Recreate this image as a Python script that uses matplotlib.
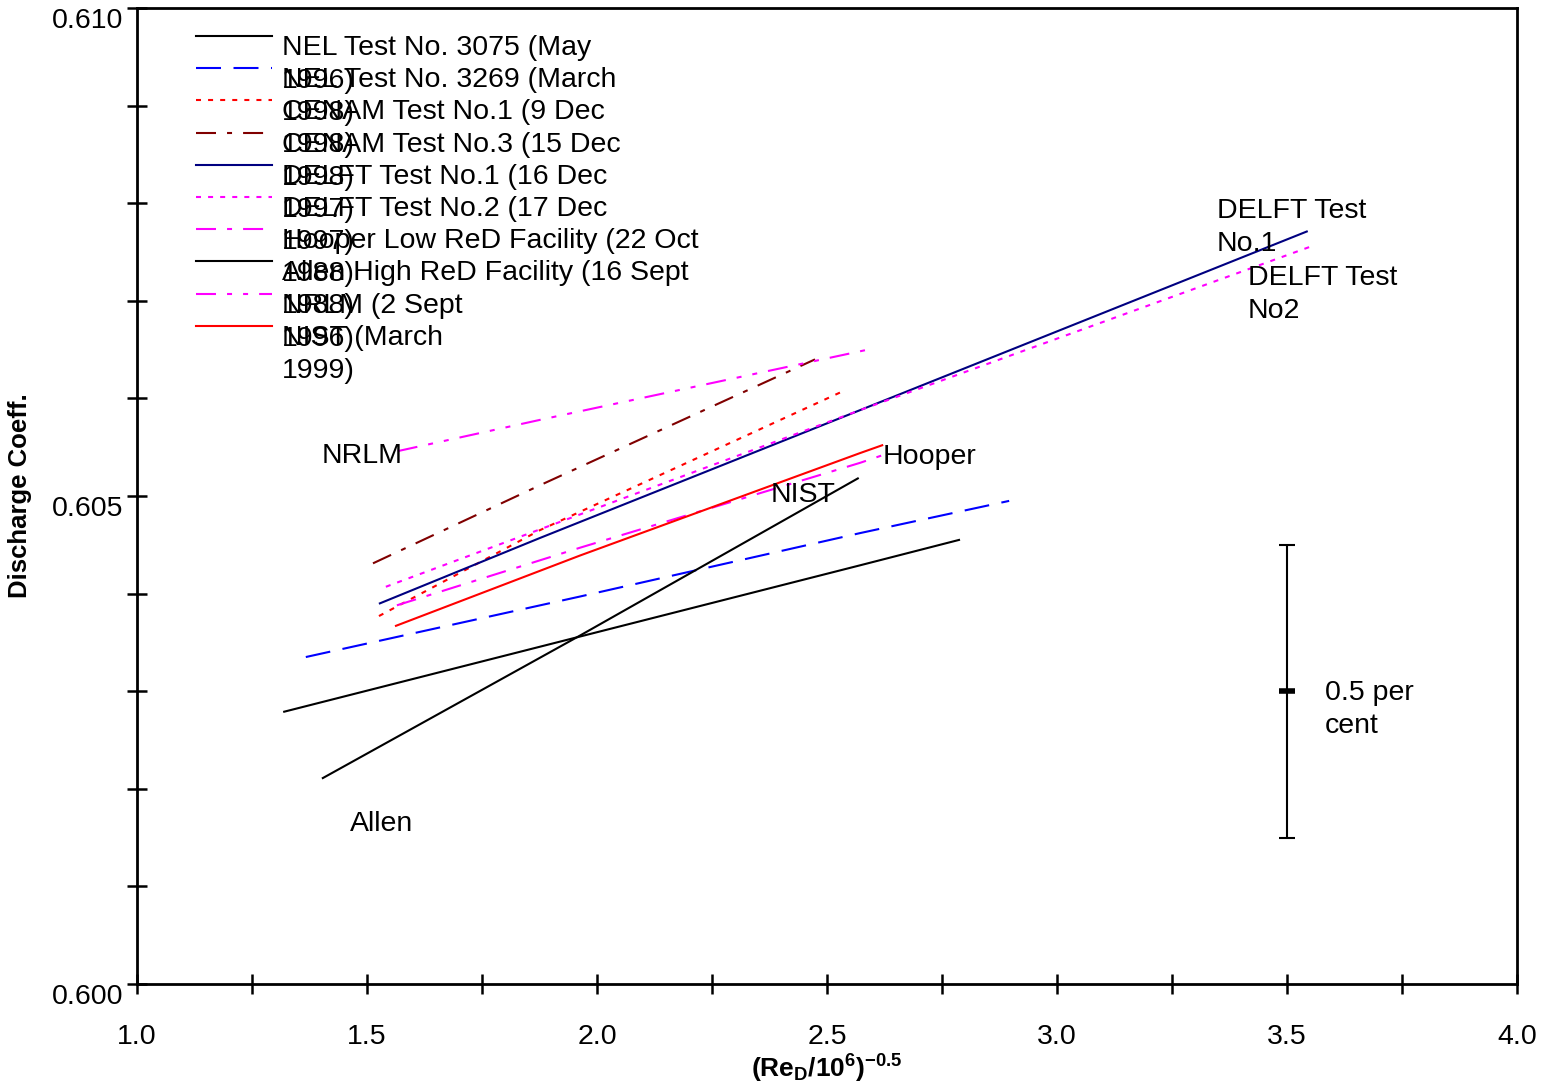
import matplotlib
matplotlib.use('Agg')
import matplotlib.pyplot as plt
from matplotlib.transforms import ScaledTranslation

plt.rcParams['font.family'] = ['Liberation Sans', 'DejaVu Sans']
plt.rcParams['mathtext.fontset'] = 'custom'
plt.rcParams['mathtext.rm'] = 'Liberation Sans'
plt.rcParams['mathtext.bf'] = 'Liberation Sans:bold'

# Series data (x = (ReD/10^6)^-0.5, y = discharge coefficient)
nel3075_x = [1.320, 1.963, 2.572, 2.787]
nel3075_y = [0.60279, 0.60356, 0.60429, 0.60455]
nel3269_x = [1.367, 1.963, 2.572, 2.896]
nel3269_y = [0.60335, 0.60397, 0.60462, 0.60495]
cenam1_x = [1.526, 1.876, 2.533]
cenam1_y = [0.60377, 0.60465, 0.60607]
cenam3_x = [1.513, 1.876, 2.474]
cenam3_y = [0.60431, 0.60511, 0.60640]
delft1_x = [1.528, 1.876, 2.572, 3.543]
delft1_y = [0.60390, 0.60457, 0.60588, 0.60771]
delft2_x = [1.541, 2.572, 3.554]
delft2_y = [0.60407, 0.60588, 0.60756]
hooper_x = [1.565, 1.963, 2.572, 2.622]
hooper_y = [0.60388, 0.60447, 0.60534, 0.60542]
allen_x = [1.404, 1.963, 2.567]
allen_y = [0.60211, 0.60357, 0.60518]
nrlm_x = [1.567, 1.876, 2.589]
nrlm_y = [0.60546, 0.60578, 0.60650]
nist_x = [1.563, 1.963, 2.572, 2.620]
nist_y = [0.60367, 0.60439, 0.60544, 0.60552]

labels = ['NEL Test No. 3075 (May\n1996)',
          'NEL Test No. 3269 (March\n1998)',
          'CENAM Test No.1 (9 Dec\n1998)',
          'CENAM Test No.3 (15 Dec\n1998)',
          'DELFT Test No.1 (16 Dec\n1997)',
          'DELFT Test No.2 (17 Dec\n1997)',
          'Hooper Low ReD Facility (22 Oct\n1988)',
          'Allen High ReD Facility (16 Sept\n1988)',
          'NRLM (2 Sept\n1996)',
          'NIST (March\n1999)']

dashdot = (0, (9.6, 5.3, 2.4, 5.3))
dashdotdot = (0, (9.6, 5.3, 2.4, 5.3, 2.4, 5.3))
dotted = (0, (2.4, 3.4))
series = [
    (nel3075_x, nel3075_y, 'black', '-'),
    (nel3269_x, nel3269_y, '#0000FF', (0, (12, 6))),
    (cenam1_x, cenam1_y, '#FF0000', dotted),
    (cenam3_x, cenam3_y, '#800000', dashdot),
    (delft1_x, delft1_y, '#000080', '-'),
    (delft2_x, delft2_y, '#FF00FF', dotted),
    (hooper_x, hooper_y, '#FF00FF', dashdot),
    (allen_x, allen_y, 'black', '-'),
    (nrlm_x, nrlm_y, '#FF00FF', dashdotdot),
    (nist_x, nist_y, '#FF0000', '-'),
]

FS = 20.5

fig = plt.figure(figsize=(15.49, 10.86), dpi=100)
ax = fig.add_axes([0.08844, 0.09392, 0.8909, 0.89871])
ax.set_xlim(1.0, 4.0)
ax.set_ylim(0.600, 0.610)

for x, y, c, ls in series:
    ax.plot(x, y, color=c, linestyle=ls, linewidth=1.5)

# Manual legend (entries overlap as in the original)
for i, ((x, y, c, ls), lab) in enumerate(zip(series, labels)):
    ly = 0.9713 - i * 0.0330
    ax.plot([0.0428, 0.0978], [ly, ly], color=c, linestyle=ls, linewidth=1.5,
            transform=ax.transAxes, clip_on=False)
    ax.text(0.1050, ly + 0.001, lab, transform=ax.transAxes, fontsize=FS,
            ha='left', va='top', linespacing=1.35)

# Series annotations
ax.text(3.348, 0.60775, 'DELFT Test\nNo.1', fontsize=FS, ha='left', va='center', linespacing=1.35)
ax.text(3.415, 0.60706, 'DELFT Test\nNo2', fontsize=FS, ha='left', va='center', linespacing=1.35)
ax.text(1.402, 0.60541, 'NRLM', fontsize=FS, ha='left', va='center')
ax.text(2.620, 0.60540, 'Hooper', fontsize=FS, ha='left', va='center')
ax.text(2.378, 0.60501, 'NIST', fontsize=FS, ha='left', va='center')
ax.text(1.463, 0.60164, 'Allen', fontsize=FS, ha='left', va='center')

# 0.5 per cent scale bar
ax.errorbar([3.5], [0.603], yerr=[0.0015], color='black', capsize=6,
            elinewidth=1.5, capthick=1.5, fmt='none')
ax.plot([3.5], [0.603], marker='_', markersize=12, markeredgewidth=4, color='black')
ax.text(3.583, 0.60281, '0.5 per\ncent', fontsize=FS, ha='left', va='center', linespacing=1.35)

# Axes styling
ax.set_xticks([1.0, 1.5, 2.0, 2.5, 3.0, 3.5, 4.0])
ax.set_xticks([1.25, 1.75, 2.25, 2.75, 3.25, 3.75], minor=True)
ax.set_yticks([0.600, 0.605, 0.610])
ax.set_yticks([0.601, 0.602, 0.603, 0.604, 0.606, 0.607, 0.608, 0.609], minor=True)
ax.set_xticklabels(['1.0', '1.5', '2.0', '2.5', '3.0', '3.5', '4.0'])
ax.set_yticklabels(['0.600', '0.605', '0.610'])
ax.tick_params(axis='both', which='both', direction='inout', length=14, width=1.8,
               labelsize=FS)
ax.tick_params(axis='x', which='major', pad=22)
ax.tick_params(axis='y', which='major', pad=3)
ax.tick_params(top=False, right=False)
for side in ['top', 'right', 'bottom', 'left']:
    ax.spines[side].set_linewidth(2)

# y tick labels sit a little below their ticks in the original
shift = ScaledTranslation(0, -0.10, fig.dpi_scale_trans)
for lab in ax.get_yticklabels():
    lab.set_transform(lab.get_transform() + shift)

ax.set_xlabel(r'$\mathbf{(Re_D/10^6)^{-0.5}}$', fontsize=19, labelpad=2)
ax.set_ylabel('Discharge Coeff.', fontsize=18.5, fontweight='bold')
ax.yaxis.set_label_coords(-0.076, 0.5)

fig.savefig('out.png', dpi=100, facecolor='white')
